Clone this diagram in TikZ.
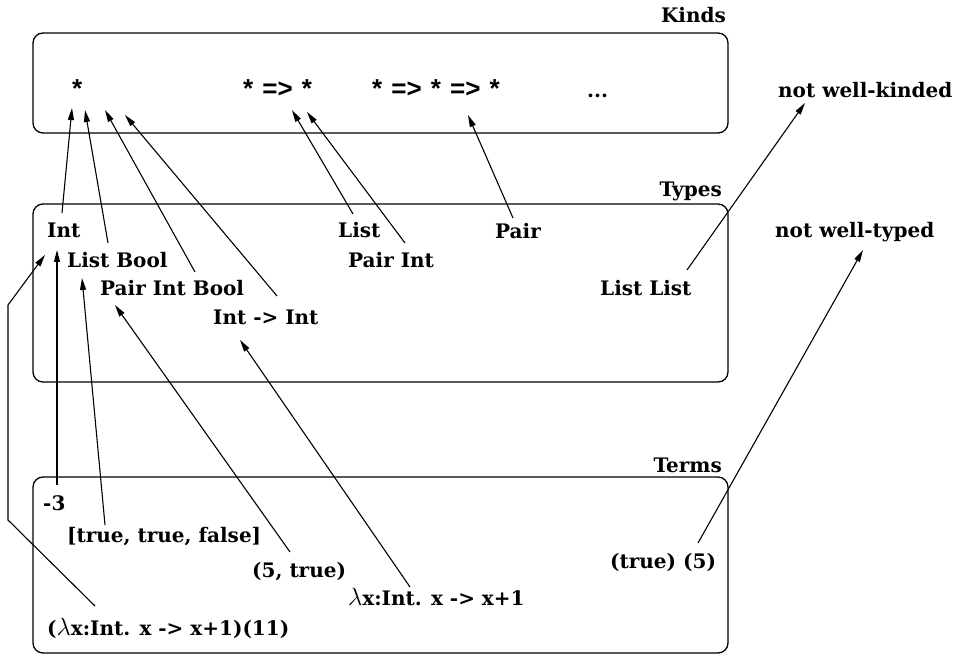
\documentclass[tikz,border=0pt]{standalone}
\usepackage{fontspec}
\setmainfont{DejaVu Serif}
\newfontfamily\kindfont{Liberation Sans}
\usetikzlibrary{arrows.meta}
\newcommand{\lam}{{\fontsize{27}{27}\selectfont$\lambda$}}
\begin{document}
\begin{tikzpicture}[x=1pt,y=-1pt,
  lab/.style={font=\bfseries\fontsize{20}{22}\selectfont, inner sep=0pt, anchor=base west},
  klab/.style={font=\kindfont\bfseries\fontsize{26}{27}\selectfont, inner sep=0pt, anchor=base west},
  ttl/.style={font=\bfseries\fontsize{20}{22}\selectfont, inner sep=0pt, anchor=base east},
  box/.style={draw, line width=1.3pt, rounded corners=10pt},
  arr/.style={line width=1.1pt, -{Triangle[length=12pt,width=6pt]}}]
\useasboundingbox (0,0) rectangle (978,655);
% boxes
\draw[box] (33,33) rectangle (728,133);
\draw[box] (33,204) rectangle (728,382);
\draw[box] (33,477) rectangle (728,653);
% titles
\node[ttl] (kindsT) at (726,23) {Kinds};
\node[ttl] (typesT) at (722,197) {Types};
\node[ttl] (termsT) at (722,472) {Terms};
% kinds
\node[klab] (k1) at (72,98) {*};
\node[klab] (k2) at (243,98) {*\hspace{0.35em}=>\hspace{0.35em}*};
\node[klab] (k3) at (372,98) {*\hspace{0.35em}=>\hspace{0.35em}*\hspace{0.35em}=>\hspace{0.35em}*};
\node[lab] (kdots) at (587,98) {...};
\node[lab] (nwk) at (778,98) {not well-kinded};
% types
\node[lab] (int) at (47,238) {Int};
\node[lab] (lb) at (67,268) {List Bool};
\node[lab] (pib) at (100,296) {Pair Int Bool};
\node[lab] (ii) at (213,324) {Int -> Int};
\node[lab] (list) at (338,238) {List};
\node[lab] (pi) at (348,268) {Pair Int};
\node[lab] (pair) at (495,239) {Pair};
\node[lab] (ll) at (600,296) {List List};
\node[lab] (nwt) at (775,238) {not well-typed};
% terms
\node[lab] (m3) at (43,510) {-3};
\node[lab] (ttf) at (67,542) {[true, true, false]};
\node[lab] (ft) at (252,577) {(5, true)};
\node[lab] (lamt) at (348,605) {\lam x:Int. x -> x+1};
\node[lab] (app) at (47,635) {(\lam x:Int. x -> x+1)(11)};
\node[lab] (tf) at (610,568) {(true) (5)};
% types -> kinds
\draw[arr] ([shift={(15,-25)}]int.base west) -- ([shift={(0,10)}]k1.base west);
\draw[arr] ([shift={(41,-25)}]lb.base west) -- ([shift={(13,12)}]k1.base west);
\draw[arr] ([shift={(95,-24)}]pib.base west) -- ([shift={(33,12)}]k1.base west);
\draw[arr] ([shift={(64,-28)}]ii.base west) -- ([shift={(53,17)}]k1.base west);
\draw[arr] ([shift={(15,-24)}]list.base west) -- ([shift={(49,12)}]k2.base west);
\draw[arr] ([shift={(57,-25)}]pi.base west) -- ([shift={(64,14)}]k2.base west);
\draw[arr] ([shift={(18,-21)}]pair.base west) -- ([shift={(96,17)}]k3.base west);
\draw[arr] ([shift={(87,-26)}]ll.base west) -- ([shift={(27,5)}]nwk.base west);
% terms -> types
\draw[arr] ([shift={(14,-25)}]m3.base west) -- ([shift={(10,12)}]int.base west);
\draw[arr] ([shift={(38,-17)}]ttf.base west) -- ([shift={(15,10)}]lb.base west);
\draw[arr] ([shift={(38,-25)}]ft.base west) -- ([shift={(15,9)}]pib.base west);
\draw[arr] ([shift={(62,-18)}]lamt.base west) -- ([shift={(27,16)}]ii.base west);
\draw[arr] ([shift={(48,-29)}]app.base west) -- ++(-87,-86) -- ++(0,-215) -- ([shift={(-2,17)}]int.base west);
\draw[arr] ([shift={(88,-25)}]tf.base west) -- ([shift={(88,12)}]nwt.base west);
\end{tikzpicture}
\end{document}
